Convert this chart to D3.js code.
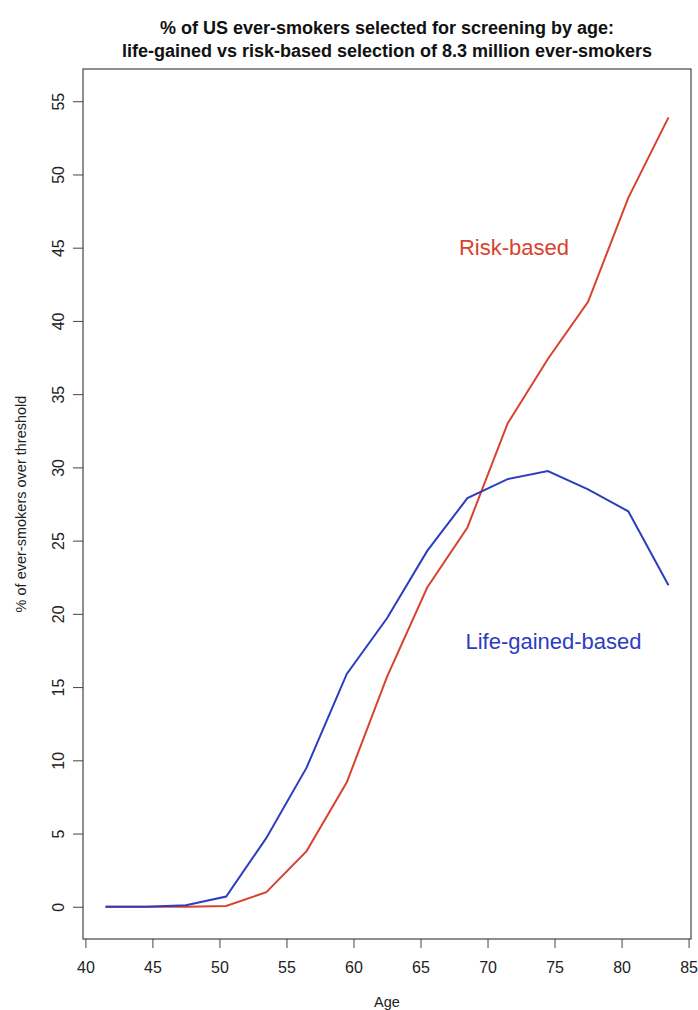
<!DOCTYPE html>
<html>
<head>
<meta charset="utf-8">
<script src="https://cdn.jsdelivr.net/npm/d3@7"></script>
<style>
  body { margin: 0; background: #fff; }
  svg { display: block; font-family: "Liberation Sans", Arial, sans-serif; }
</style>
</head>
<body>
<div id="chart"></div>
<script>
// data
const ages = [41.5, 44.5, 47.5, 50.5, 53.5, 56.5, 59.5, 62.5, 65.5, 68.5, 71.5, 74.5, 77.5, 80.5, 83.5]
const riskBased = [0, 0, 0, 0.05, 1.0, 3.8, 8.5, 15.7, 21.8, 25.9, 33.0, 37.4, 41.3, 48.4, 53.9]
const lifeGained = [0, 0, 0.1, 0.7, 4.7, 9.5, 15.9, 19.7, 24.3, 27.9, 29.2, 29.75, 28.5, 27.0, 21.95]
const xTicks = [40, 45, 50, 55, 60, 65, 70, 75, 80, 85]
const yTicks = [0, 5, 10, 15, 20, 25, 30, 35, 40, 45, 50, 55]
const titleLines = [
  '% of US ever-smokers selected for screening by age:',
  'life-gained vs risk-based selection of 8.3 million ever-smokers'
]

const W = 698, H = 1010
let box = { left: 83, right: 691, top: 69, bottom: 939 }
const red = '#d8432e', blue = '#2c3dbf'

const svg = d3.select('#chart').append('svg')
  .attr('width', W)
  .attr('height', H)

// R style 4% padding on x
let x = d3.scaleLinear().domain([39.82, 85.18]).range([box.left, box.right])
let y = d3.scaleLinear().domain([-2.2, 57.2]).range([box.bottom, box.top])

// title
svg.append('g').selectAll('text')
  .data(titleLines)
  .enter()
  .append('text')
  .attr('x', (box.left + box.right) / 2)
  .attr('y', (d, i) => 34 + i * 23)
  .attr('text-anchor', 'middle')
  .attr('font-weight', 'bold')
  .attr('font-size', '18px')
  .attr('fill', '#111')
  .text(d => d)

// x axis
let xAxis = svg.append('g')
  .attr('transform', 'translate(0,' + box.bottom + ')')
  .call(d3.axisBottom(x).tickValues(xTicks).tickSize(9).tickSizeOuter(0))
xAxis.select('.domain').remove()
xAxis.selectAll('line').attr('stroke', '#444')
xAxis.selectAll('text')
  .attr('y', 33.5)
  .attr('dy', 0)
  .attr('font-size', '16px')
  .attr('font-family', '"Liberation Sans", Arial, sans-serif')
  .attr('fill', '#222')

// y axis
let yAxis = svg.append('g')
  .attr('transform', 'translate(' + box.left + ',0)')
  .call(d3.axisLeft(y).tickValues(yTicks).tickSize(10).tickSizeOuter(0))
yAxis.select('.domain').remove()
yAxis.selectAll('line').attr('stroke', '#444')
yAxis.selectAll('text')
  .attr('x', 0)
  .attr('dy', 0)
  .attr('text-anchor', 'middle')
  .attr('transform', 'translate(-19,0) rotate(-90)')
  .attr('font-size', '16px')
  .attr('font-family', '"Liberation Sans", Arial, sans-serif')
  .attr('fill', '#222')

// plot box
svg.append('rect')
  .attr('x', box.left)
  .attr('y', box.top)
  .attr('width', box.right - box.left)
  .attr('height', box.bottom - box.top)
  .attr('fill', 'none')
  .attr('stroke', '#444')
  .attr('stroke-width', 1.2)

// axis titles
svg.append('text')
  .attr('x', (box.left + box.right) / 2)
  .attr('y', 1007)
  .attr('text-anchor', 'middle')
  .attr('font-size', '14.5px')
  .attr('fill', '#222')
  .text('Age')

svg.append('text')
  .attr('transform', 'translate(26,' + (box.top + box.bottom) / 2 + ') rotate(-90)')
  .attr('text-anchor', 'middle')
  .attr('font-size', '14.5px')
  .attr('fill', '#222')
  .text('% of ever-smokers over threshold')

// lines
let line = d3.line()
  .x((d, i) => x(ages[i]))
  .y(d => y(d))

svg.append('path')
  .datum(riskBased)
  .attr('d', line)
  .attr('fill', 'none')
  .attr('stroke', red)
  .attr('stroke-width', 2)

svg.append('path')
  .datum(lifeGained)
  .attr('d', line)
  .attr('fill', 'none')
  .attr('stroke', blue)
  .attr('stroke-width', 2)

// series labels
svg.append('text')
  .attr('x', 514)
  .attr('y', 255)
  .attr('text-anchor', 'middle')
  .attr('font-size', '22px')
  .attr('fill', red)
  .text('Risk-based')

svg.append('text')
  .attr('x', 553.5)
  .attr('y', 649)
  .attr('text-anchor', 'middle')
  .attr('font-size', '22px')
  .attr('fill', blue)
  .text('Life-gained-based')
</script>
</body>
</html>
